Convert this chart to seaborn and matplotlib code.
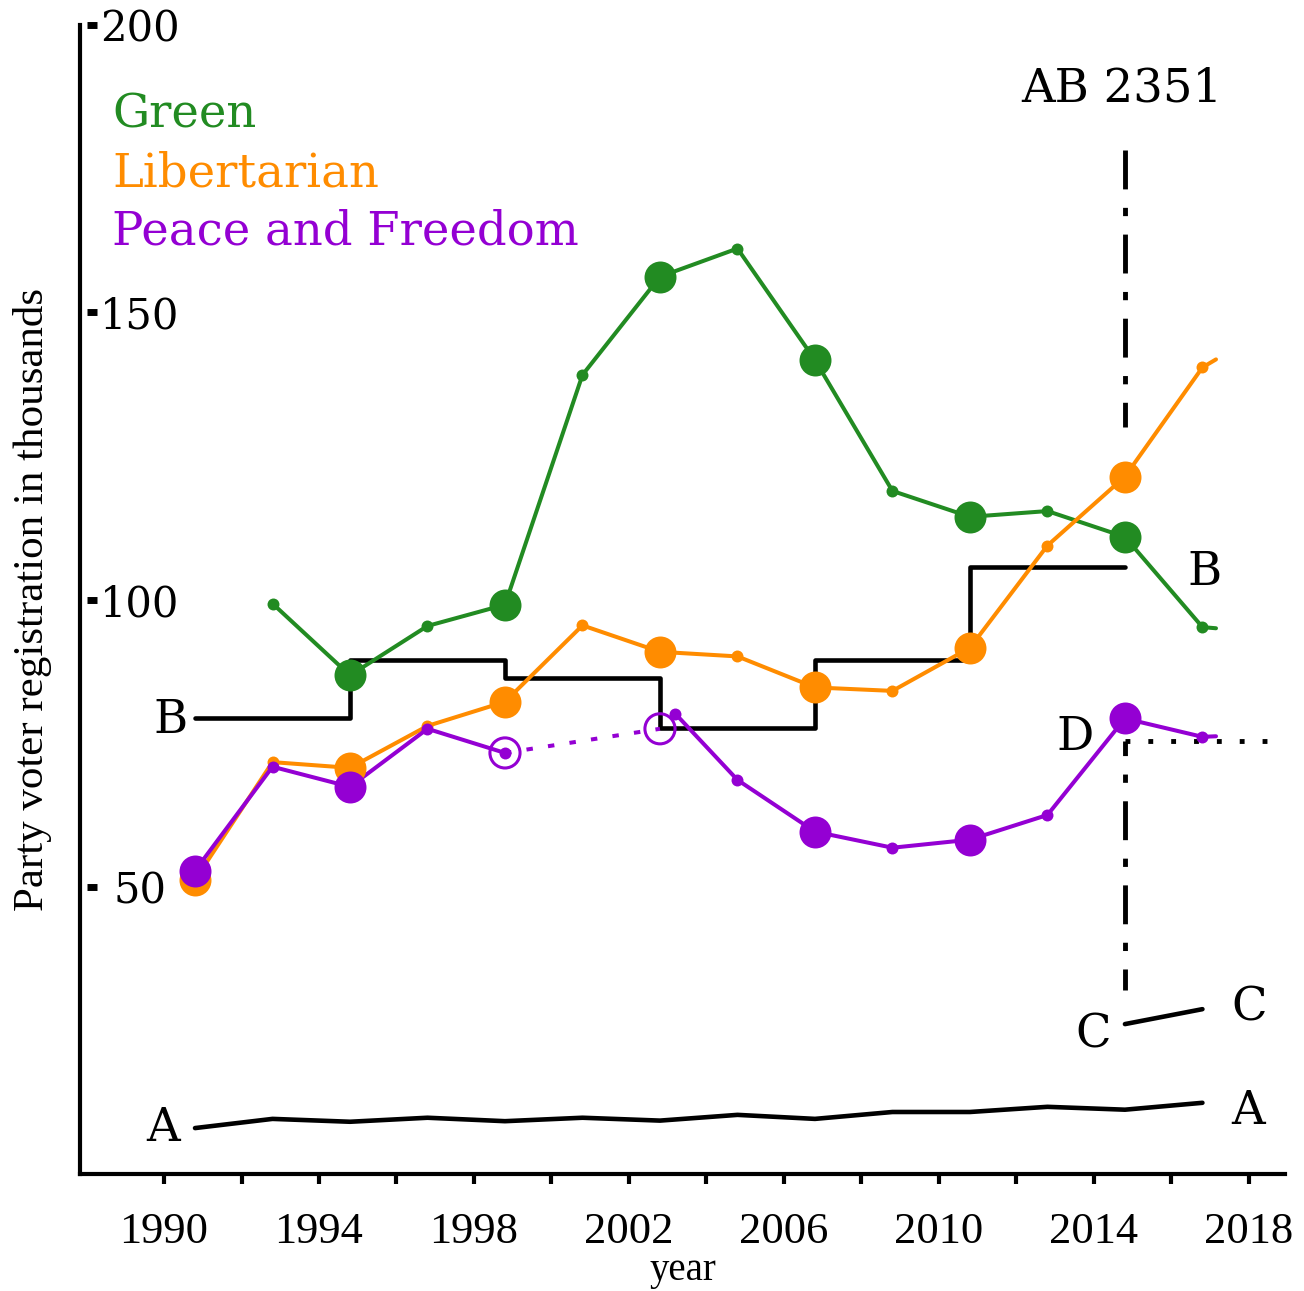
import numpy as np
import pandas as pd
import matplotlib
matplotlib.use("Agg")
import matplotlib.pyplot as plt
import matplotlib.transforms as mtransforms
import seaborn as sns

# ── Data (thousands of registered voters, October reports) ────────────────────
REG_X = [1990.8, 1992.8, 1994.8, 1996.8, 1998.8, 2000.8, 2002.8, 2004.8,
         2006.8, 2008.8, 2010.8, 2012.8, 2014.8, 2016.8, 2017.15]
GUBER_X = [1990.8, 1994.8, 1998.8, 2002.8, 2006.8, 2010.8, 2014.8]

green = [np.nan, 99.3, 86.8, 95.4, 99.1, 139.1, 156.2, 161.1,
         141.7, 118.9, 114.4, 115.4, 110.9, 95.2, 95.0]
libertarian = [51.2, 71.7, 70.7, 78.0, 82.2, 95.5, 90.9, 90.1,
               84.7, 84.1, 91.6, 109.4, 121.4, 140.4, 141.8]

pf_x_early = [1990.8, 1992.8, 1994.8, 1996.8, 1998.8]
pf_early = [52.8, 70.9, 67.4, 77.5, 73.3]
pf_x_gap = [1998.8, 2002.8]
pf_gap = [73.3, 77.5]
pf_x_late = [2003.2, 2004.8, 2006.8, 2008.8, 2010.8, 2012.8, 2014.8, 2016.8, 2017.15]
pf_late = [80.1, 68.6, 59.6, 56.8, 58.2, 62.5, 79.3, 76.1, 76.2]

# reference lines
a_x = [1990.8, 1992.8, 1994.8, 1996.8, 1998.8, 2000.8, 2002.8, 2004.8,
       2006.8, 2008.8, 2010.8, 2012.8, 2014.8, 2016.8]
a_vals = [8.0, 9.6, 9.1, 9.8, 9.2, 9.8, 9.3, 10.3, 9.6, 10.8, 10.8, 11.7, 11.2, 12.4]
b_x = [1990.8, 1994.8, 1998.8, 2002.8, 2006.8, 2010.8, 2014.8]
b_vals = [79.3, 89.4, 86.4, 77.7, 89.4, 105.6, 105.6]
c_x = [2014.8, 2016.8]
c_vals = [26.1, 28.7]
d_x = [2014.8, 2018.6]
d_vals = [75.4, 75.4]
ab_x = 2014.8
ab_top = [178.3, 130.0]
ab_bottom = [75.4, 32.0]

GREEN, ORANGE, PURPLE = "#228B22", "#FF8C00", "#9400D3"

# ── Plot ──────────────────────────────────────────────────────────────────────
sns.set_style("white")
plt.rcParams["font.family"] = ["DejaVu Serif"]
for k in ("text.color", "axes.labelcolor", "xtick.color", "ytick.color", "axes.edgecolor"):
    plt.rcParams[k] = "black"
fig = plt.figure(figsize=(13.04, 12.91), dpi=100)
ax = fig.add_axes([0.0613, 0.0906, 0.9241, 0.8900])

LW = 2.9


def line(x, y, **kw):
    sns.lineplot(x=x, y=y, ax=ax, sort=False, estimator=None, **kw)


def dots(x, y, color, big):
    s = 530 if big else 74
    sns.scatterplot(x=x, y=y, ax=ax, color=color, s=s, linewidth=0, zorder=5)


# black reference lines
line(a_x, a_vals, color="black", lw=3.3, zorder=2)
line(b_x, b_vals, color="black", lw=3.3, drawstyle="steps-post", zorder=2)
line(c_x, c_vals, color="black", lw=3.3, zorder=2)
line(d_x, d_vals, color="black", lw=3.5, linestyle=(0, (1, 3.7)), zorder=2)
line([ab_x, ab_x], ab_top, color="black", lw=3.5, linestyle=(0, (8, 3.8, 1.7, 3.8)), zorder=2)
line([ab_x, ab_x], ab_bottom, color="black", lw=3.5, linestyle=(5, (8, 3.8, 1.7, 3.8)), zorder=2)

# party series
for xs, ys, col in [(REG_X, green, GREEN), (REG_X, libertarian, ORANGE)]:
    df = pd.DataFrame({"x": xs, "y": ys}).dropna()
    line(df.x.tolist(), df.y.tolist(), color=col, lw=LW, zorder=3)
    mk = df[df.x < 2017]
    big = mk[mk.x.isin(GUBER_X)]
    small = mk[~mk.x.isin(GUBER_X)]
    dots(big.x.tolist(), big.y.tolist(), col, True)
    dots(small.x.tolist(), small.y.tolist(), col, False)

line(pf_x_early, pf_early, color=PURPLE, lw=LW, zorder=3)
line(pf_x_late, pf_late, color=PURPLE, lw=LW, zorder=3)
line(pf_x_gap, pf_gap, color=PURPLE, lw=LW, linestyle=(0, (1.6, 3.8)), zorder=3)
pf_all = pd.DataFrame({"x": pf_x_early + pf_x_late, "y": pf_early + pf_late})
pf_all = pf_all[pf_all.x < 2017]
big_pf = pf_all[pf_all.x.isin(GUBER_X) & (pf_all.x != 1998.8)]
small_pf = pf_all[~pf_all.x.isin(GUBER_X) | (pf_all.x == 1998.8)]
dots(big_pf.x.tolist(), big_pf.y.tolist(), PURPLE, True)
dots(small_pf.x.tolist(), small_pf.y.tolist(), PURPLE, False)
sns.scatterplot(x=pf_x_gap, y=pf_gap, ax=ax, s=470, facecolor="none",
                edgecolor=PURPLE, linewidth=2.2, zorder=5)

# ── Text labels ───────────────────────────────────────────────────────────────
TXT = 33.5
ax.text(1988.66, 182.1, "Green", color=GREEN, fontsize=TXT, va="baseline")
ax.text(1988.66, 171.9, "Libertarian", color=ORANGE, fontsize=TXT, va="baseline")
ax.text(1988.66, 161.8, "Peace and Freedom", color=PURPLE, fontsize=TXT, va="baseline")
ax.text(2014.72, 186.7, "AB 2351", fontsize=TXT, ha="center", va="baseline")
for (lx, ly, s) in [(1990.18, 76.8, "B"), (2016.86, 102.6, "B"),
                    (2013.5, 73.8, "D"), (2013.97, 22.1, "C"),
                    (2018.0, 26.8, "C"), (1989.97, 5.7, "A"),
                    (2017.97, 8.7, "A")]:
    ax.text(lx, ly, s, fontsize=TXT, ha="center", va="baseline")

# ── Axes styling ──────────────────────────────────────────────────────────────
ax.set_xlim(1987.83, 2018.93)
ax.set_ylim(0, 200)
sns.despine(ax=ax)
for sp in ("left", "bottom"):
    ax.spines[sp].set_linewidth(3)

ax.set_xticks([1990, 1994, 1998, 2002, 2006, 2010, 2014, 2018])
ax.set_xticks([1992, 1996, 2000, 2004, 2008, 2012, 2016], minor=True)
ax.tick_params(axis="x", which="both", direction="out", length=7, width=3,
               pad=20, labelsize=32, bottom=True)
for lab in ax.get_xticklabels():
    lab.set_fontfamily("Liberation Serif")

ax.set_yticks([50, 100, 150, 200])
ax.tick_params(axis="y", length=0, pad=-43, labelsize=30)
for lab in ax.get_yticklabels():
    lab.set_horizontalalignment("center")
trans = mtransforms.blended_transform_factory(ax.transAxes, ax.transData)
ax.plot([0.0104] * 4, [50, 100, 150, 200], transform=trans, ls="none",
        marker="_", markersize=7.5, mew=5, color="black", clip_on=False)

ax.set_xlabel("year", fontsize=28, family="Liberation Serif", labelpad=0)
ax.set_ylabel("Party voter registration in thousands", fontsize=31,
              family="Liberation Serif", labelpad=20)

fig.savefig("out.png", dpi=100)
